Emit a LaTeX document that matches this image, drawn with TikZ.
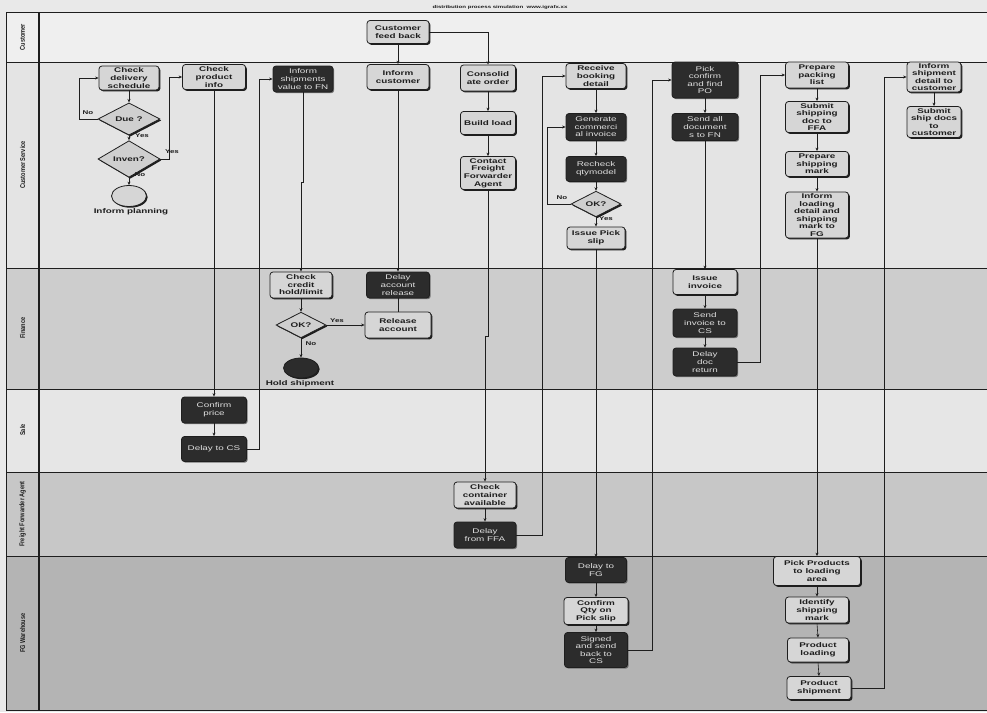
\documentclass[tikz,border=0pt]{standalone}
\usepackage{fontspec}
\setmainfont{Liberation Sans}
\newfontfamily\bxfont{Liberation Sans}[FakeStretch=1.45]
\newfontfamily\lanefam{Liberation Sans}[FakeStretch=0.8]
\usetikzlibrary{shapes.geometric,shadows,arrows.meta,calc}
\newcommand{\bxb}{\bxfont\bfseries\fontsize{6.8}{7.6}\selectfont}
\newcommand{\bxr}{\bxfont\fontsize{6.8}{7.6}\selectfont}
\newcommand{\lnf}{\lanefam\bfseries\fontsize{7}{8}\selectfont}
\newcommand{\ynf}{\bxfont\bfseries\fontsize{5.5}{6}\selectfont}
\definecolor{paper}{HTML}{E9E9E9}
\definecolor{laneA}{HTML}{EFEFEF}
\definecolor{laneB}{HTML}{E4E4E4}
\definecolor{laneC}{HTML}{CDCDCD}
\definecolor{laneD}{HTML}{E6E6E6}
\definecolor{laneE}{HTML}{C7C7C7}
\definecolor{laneF}{HTML}{B4B4B4}
\definecolor{boxlight}{HTML}{D6D6D6}
\definecolor{decfill}{HTML}{CFCFCF}
\definecolor{boxdark}{HTML}{2C2C2C}
\definecolor{ink}{HTML}{1E1E1E}
\tikzset{
  sz/.style 2 args={minimum width=#1pt, minimum height=#2pt},
  lbox/.style={draw=ink, line width=0.8pt, rounded corners=3pt, fill=boxlight, font=\bxb, text=ink, align=center, inner sep=0pt,
    drop shadow={shadow xshift=1.4pt, shadow yshift=-1.4pt, fill=ink, opacity=1}},
  dbox/.style={draw=ink, line width=0.8pt, rounded corners=3pt, fill=boxdark, font=\bxr, text=white!88!black, align=center, inner sep=0pt,
    drop shadow={shadow xshift=1.2pt, shadow yshift=-1.2pt, fill=black!55, opacity=1}},
  dec/.style={diamond, draw=ink, line width=0.8pt, fill=decfill, font=\bxb, text=ink, inner sep=0pt,
    drop shadow={shadow xshift=1.4pt, shadow yshift=-1.4pt, fill=ink, opacity=1}},
  term/.style={ellipse, draw=ink, line width=0.8pt, fill=boxlight, inner sep=0pt,
    drop shadow={shadow xshift=1.2pt, shadow yshift=-1.2pt, fill=ink, opacity=1}},
  conn/.style={draw=ink, line width=0.6pt},
  arr/.style={conn, -{Stealth[length=3.5pt,width=3pt]}},
  yn/.style={font=\ynf, text=ink, inner sep=0.5pt},
  lanelab/.style={rotate=90, font=\lnf, text=ink},
  frame/.style={draw=ink, line width=1pt}
}
\begin{document}
\begin{tikzpicture}[x=1pt,y=-1pt]
\useasboundingbox (0,0) rectangle (987,712);
\fill[paper] (0,0) rectangle (987,712);
% lanes
\fill[laneA] (6,12) rectangle (987,62);
\fill[laneB] (6,62) rectangle (987,268);
\fill[laneC] (6,268) rectangle (987,389);
\fill[laneD] (6,389) rectangle (987,472);
\fill[laneE] (6,472) rectangle (987,556);
\fill[laneF] (6,556) rectangle (987,710);
\foreach \yy in {12,62,268,389,472,556,710} \draw[frame] (6,\yy) -- (987,\yy);
\draw[frame] (6,12) -- (6,710);
\draw[draw=ink, line width=2pt] (39,12) -- (39,710);
% title
\node[font=\bxfont\bfseries\fontsize{4.2}{5}\selectfont, text=ink, inner sep=0pt] (ttl) at (500,7) {distribution process simulation\ \ www.igrafx.xx};
% lane labels
\node[lanelab] (lcu) at (22.5,37) {Customer};
\node[lanelab] (lcs) at (22.5,165) {Customer Service};
\node[lanelab] (lfi) at (22.5,328) {Finance};
\node[lanelab] (lsa) at (22.5,430) {Sale};
\node[lanelab] (lff) at (22.5,514) {Freight Forwarder Agent};
\node[lanelab] (lfg) at (22.5,633) {FG Warehouse};
% Customer lane
\node[lbox, sz={62}{23}] (fb) at (398,32) {Customer\\feed back};
% Customer Service lane
\node[lbox, sz={60}{24}] (cds) at (129,78) {Check\\delivery\\schedule};
\node[dec, sz={62}{25}] (due) at (129,119) {Due ?};
\node[dec, sz={62}{25}] (inv) at (129,159) {Inven?};
\node[term, sz={35}{21}] (plan) at (129,196) {};
\node[yn, font=\bxb] (planl) at (131,212) {Inform planning};
\node[lbox, sz={63}{25}] (cpi) at (214,77) {Check\\product\\info};
\node[dbox, sz={60}{26}] (isv) at (303,79) {Inform\\shipments\\value to FN};
\node[lbox, sz={62}{25}] (ic) at (398,77) {Inform\\customer};
\node[lbox, sz={55}{26}] (con) at (488,78) {Consolid\\ate order};
\node[lbox, sz={55}{23}] (bl) at (488,123) {Build load};
\node[lbox, sz={55}{33}] (cff) at (488,173) {Contact\\Freight\\Forwarder\\Agent};
\node[lbox, sz={60}{25}] (rbd) at (596,76) {Receive\\booking\\detail};
\node[dbox, sz={60}{27}] (gci) at (596,127) {Generate\\commerci\\al invoice};
\node[dbox, sz={60}{25}] (rq) at (596,169) {Recheck\\qtymodel};
\node[dec, sz={50}{22}] (ok2) at (596,204) {OK?};
\node[lbox, sz={58}{22}] (ips) at (596,238) {Issue Pick\\slip};
\node[dbox, sz={66}{36}] (pcf) at (705,80) {Pick\\confirm\\and find\\PO};
\node[dbox, sz={66}{27}] (sad) at (705,127) {Send all\\document\\s to FN};
\node[lbox, sz={63}{26}] (ppl) at (817,75) {Prepare\\packing\\list};
\node[lbox, sz={63}{31}] (ssd) at (817,117) {Submit\\shipping\\doc to\\FFA};
\node[lbox, sz={63}{25}] (psm) at (817,164) {Prepare\\shipping\\mark};
\node[lbox, sz={63}{46}] (ild) at (817,215) {Inform\\loading\\detail and\\shipping\\mark to\\FG};
\node[lbox, sz={54}{30}] (isd) at (934,77) {Inform\\shipment\\detail to\\customer};
\node[lbox, sz={54}{31}] (sdc) at (934,122) {Submit\\ship docs\\to\\customer};
% Finance lane
\node[lbox, sz={62}{26}] (cch) at (301,285) {Check\\credit\\hold/limit};
\node[dec, sz={50}{25}] (okf) at (301,325) {OK?};
\node[term, fill=boxdark, sz={35}{20}] (hold) at (301,368) {};
\node[yn, font=\bxb] (holdl) at (300,384) {Hold shipment};
\node[dbox, sz={63}{26}] (dar) at (398,285) {Delay\\account\\release};
\node[lbox, sz={66}{26}] (rel) at (398,325) {Release\\account};
\node[lbox, sz={64}{25}] (iin) at (705,282) {Issue\\invoice};
\node[dbox, sz={64}{28}] (sic) at (705,323) {Send\\invoice to\\CS};
\node[dbox, sz={64}{28}] (ddr) at (705,362) {Delay\\doc\\return};
% Sale lane
\node[dbox, sz={65}{26}] (cp) at (214,410) {Confirm\\price};
\node[dbox, sz={65}{25}] (dcs) at (214,449) {Delay to CS};
% Freight Forwarder Agent lane
\node[lbox, sz={62}{26}] (ccv) at (485,495) {Check\\container\\available};
\node[dbox, sz={62}{26}] (dff) at (485,535) {Delay\\from FFA};
% FG Warehouse lane
\node[dbox, sz={61}{25}] (dfg) at (596,570) {Delay to\\FG};
\node[lbox, sz={64}{27}] (cq) at (596,611) {Confirm\\Qty on\\Pick slip};
\node[dbox, sz={63}{35}] (sb) at (596,650) {Signed\\and send\\back to\\CS};
\node[lbox, sz={87}{29}] (pp) at (817,571) {Pick Products\\to loading\\area};
\node[lbox, sz={63}{26}] (isp) at (817,610) {Identify\\shipping\\mark};
\node[lbox, sz={61}{24}] (pl) at (818,650) {Product\\loading};
\node[lbox, sz={64}{23}] (psh) at (819,688) {Product\\shipment};
% yes / no labels
\node[yn] (n1) at (88,113) {No};
\node[yn] (y1) at (142,136) {Yes};
\node[yn] (y2) at (172,152) {Yes};
\node[yn] (n2) at (140,175) {No};
\node[yn] (n3) at (562,198) {No};
\node[yn] (y3) at (606,219) {Yes};
\node[yn] (y4) at (337,321) {Yes};
\node[yn] (n4) at (311,344) {No};
% connectors
\draw[arr] (cds.south) -- (due.north);
\draw[arr] (due.south) -- (inv.north);
\draw[arr] (inv.south) -- (plan.north);
\draw[arr] (due.west) -- ++(-18,0) |- (cds.west);
\draw[arr] (inv.east) -- ++(9,0) |- (cpi.west);
\draw[arr] (cpi.south) -- (cp.north);
\draw[arr] (cp.south) -- (dcs.north);
\draw[arr] (dcs.east) -- ++(12,0) |- (isv.west);
\draw[arr] (isv.south) -- ++(0,90) -| (cch.north);
\draw[arr] (cch.south) -- (okf.north);
\draw[arr] (okf.east) -- (rel.west);
\draw[arr] (okf.south) -- (hold.north);
\draw[arr] (fb.south) -- (ic.north);
\draw[arr] (fb.east) -| (con.north);
\draw[arr] (ic.south) -- (dar.north);
\draw[conn] (dar.south) -- (rel.north);
\draw[arr] (con.south) -- (bl.north);
\draw[arr] (bl.south) -- (cff.north);
\draw[arr] (cff.south) -- ++(0,146) -| (ccv.north);
\draw[arr] (ccv.south) -- (dff.north);
\draw[arr] (dff.east) -- ++(26,0) |- (rbd.west);
\draw[arr] (rbd.south) -- (gci.north);
\draw[arr] (gci.south) -- (rq.north);
\draw[arr] (rq.south) -- (ok2.north);
\draw[arr] (ok2.south) -- (ips.north);
\draw[arr] (ok2.west) -- ++(-23,0) |- (gci.west);
\draw[arr] (ips.south) -- (dfg.north);
\draw[arr] (dfg.south) -- (cq.north);
\draw[arr] (cq.south) -- (sb.north);
\draw[arr] (sb.east) -- ++(24,0) |- (pcf.west);
\draw[arr] (pcf.south) -- (sad.north);
\draw[arr] (sad.south) -- (iin.north);
\draw[arr] (iin.south) -- (sic.north);
\draw[arr] (sic.south) -- (ddr.north);
\draw[arr] (ddr.east) -- ++(23,0) |- (ppl.west);
\draw[arr] (ppl.south) -- (ssd.north);
\draw[arr] (ssd.south) -- (psm.north);
\draw[arr] (psm.south) -- (ild.north);
\draw[arr] (ild.south) -- (pp.north);
\draw[arr] (pp.south) -- (isp.north);
\draw[arr] (isp.south) -- (pl.north);
\draw[arr] (pl.south) -- (psh.north);
\draw[arr] (psh.east) -- ++(33,0) |- (isd.west);
\draw[arr] (isd.south) -- (sdc.north);
\end{tikzpicture}
\end{document}
